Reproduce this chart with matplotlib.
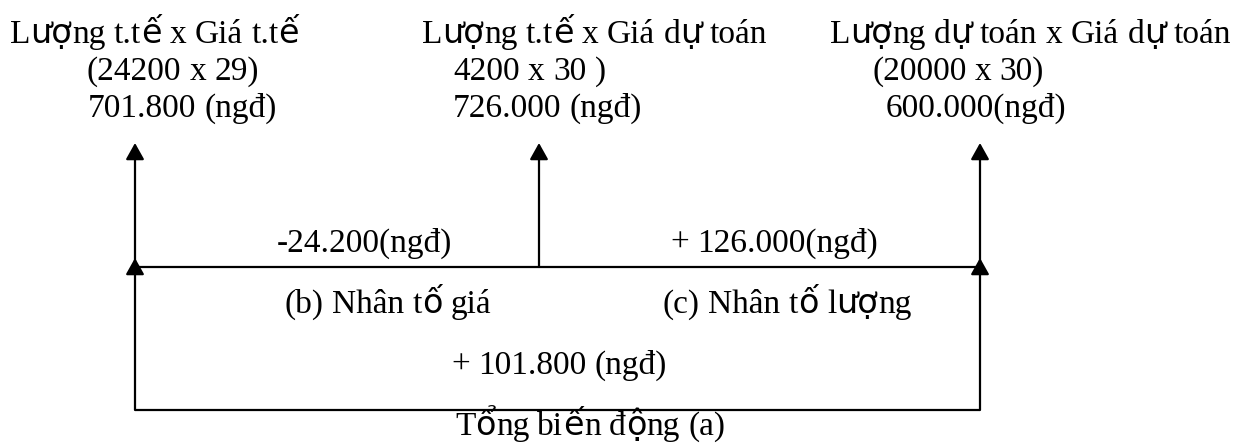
import matplotlib
matplotlib.use("Agg")
import matplotlib.pyplot as plt

# ---- content (text values of the diagram) ----
top_labels = [
    ["Lượng t.tế x Giá t.tế", "(24200 x 29)", "701.800 (ngđ)"],
    ["Lượng t.tế x Giá dự toán", "4200 x 30 )", "726.000 (ngđ)"],
    ["Lượng dự toán x Giá dự toán", "(20000 x 30)", "600.000(ngđ)"],
]
diff_labels = ["-24.200(ngđ)", "+ 126.000(ngđ)"]
factor_labels = ["(b) Nhân tố giá", "(c) Nhân tố lượng"]
total_label = "+ 101.800 (ngđ)"
total_title = "Tổng biến động (a)"

# ---- layout (pixel coordinates, y downwards) ----
W, H = 1240, 444
col_x = [135, 539, 980]
top_line_x = [[10, 87, 88], [422, 453, 453], [830, 872, 886]]
top_line_y = [43, 80, 117]
arrow_tip_y = 143
mid_y = 267
bottom_y = 410
lower_tip_y = 258

SERIF = 'Liberation Serif'
SANS = 'DejaVu Sans'
SANS_CHARS = set("ượựếốổộ")
fs = 24

fig = plt.figure(figsize=(W / 100, H / 100), dpi=100)
ax = fig.add_axes([0, 0, 1, 1])
ax.set_xlim(0, W)
ax.set_ylim(H, 0)
ax.axis('off')
renderer = fig.canvas.get_renderer()

SPACE_W = 0.25 * fs * 100 / 72.0  # Liberation Serif space advance in px


def runs_of(s):
    runs = []
    for ch in s:
        fam = SANS if ch in SANS_CHARS else SERIF
        if ch == ' ':
            fam = 'space'
        if runs and runs[-1][0] == fam:
            runs[-1][1] += ch
        else:
            runs.append([fam, ch])
    return runs


def rich_text(x, y, s):
    cur = x
    for fam, txt in runs_of(s):
        if fam == 'space':
            cur += SPACE_W * len(txt)
            continue
        t = ax.text(cur, y, txt, fontsize=fs, family=fam,
                    ha='left', va='baseline', color='black')
        bb = t.get_window_extent(renderer)
        cur += bb.width
    return cur


lw = 1.6
astyle = "-|>,head_length=0.5,head_width=0.28"


def arrow(x, y0, y1):
    ax.annotate("", xy=(x, y1), xytext=(x, y0),
                arrowprops=dict(arrowstyle=astyle, mutation_scale=20,
                                color='black', lw=lw, shrinkA=0, shrinkB=0))


# upper arrows
for x in col_x:
    arrow(x, mid_y, arrow_tip_y)
# lower arrows (outer columns)
arrow(col_x[0], bottom_y, lower_tip_y)
arrow(col_x[2], bottom_y, lower_tip_y)

# horizontal lines
ax.plot([col_x[0], col_x[2]], [mid_y, mid_y], color='black', lw=lw, solid_capstyle='butt')
ax.plot([col_x[0], col_x[2]], [bottom_y, bottom_y], color='black', lw=lw, solid_capstyle='butt')

# top text blocks
for i, lines in enumerate(top_labels):
    for j, t in enumerate(lines):
        rich_text(top_line_x[i][j], top_line_y[j], t)

# differences above middle line
rich_text(277, 252, diff_labels[0])
rich_text(670, 252, diff_labels[1])

# factor labels below middle line
rich_text(285, 313, factor_labels[0])
rich_text(663, 313, factor_labels[1])

# total
rich_text(451, 374, total_label)
rich_text(455, 435, total_title)

fig.savefig("out.png", dpi=100, facecolor='white')
